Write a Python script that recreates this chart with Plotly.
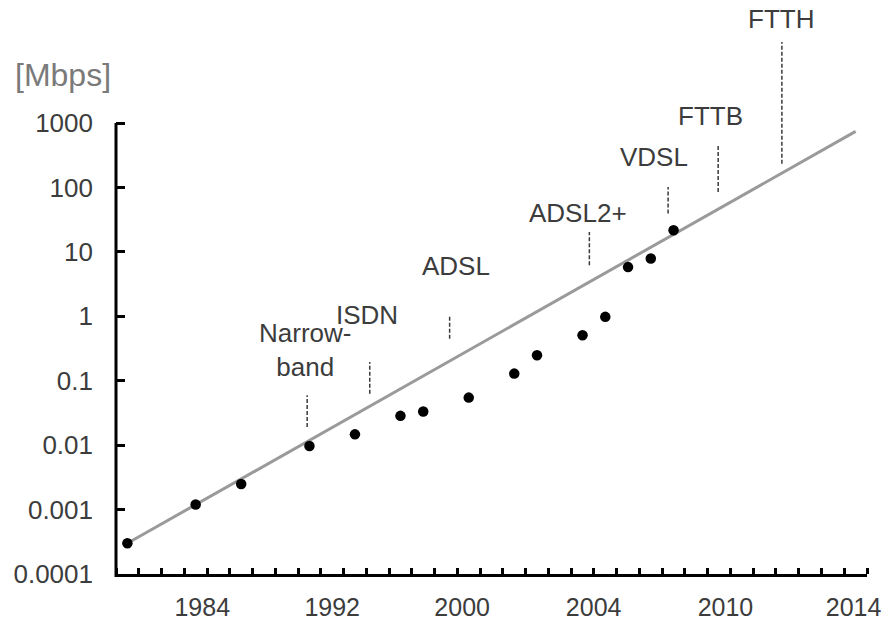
import math
import plotly.graph_objects as go

# ---- data ----
# x positions are year-category indices along the axis (0 = first category)
point_x = [0, 3, 5, 8, 10, 12, 13, 15, 17, 18, 20, 21, 22, 23, 24]
point_mbps = [0.0003, 0.0012, 0.0025, 0.0097, 0.0147, 0.0285, 0.0333, 0.0547,
              0.129, 0.248, 0.507, 0.98, 5.8, 7.9, 21.6]

trend_x = [0, 32]
trend_mbps = [0.0003, 740]

tick_pos = [3.29, 9.0, 14.71, 20.49, 26.28, 31.91]
tick_labels = ["1984", "1992", "2000", "2004", "2010", "2014"]

y_tickvals = [0.0001, 0.001, 0.01, 0.1, 1, 10, 100, 1000]
y_ticktext = ["0.0001", "0.001", "0.01", "0.1", "1", "10", "100", "1000"]

tech_names = ["Narrow-<br>band", "ISDN", "ADSL", "ADSL2+", "VDSL", "FTTB", "FTTH"]
tech_label_x = [7.82, 10.54, 14.44, 19.80, 23.15, 25.64, 28.71]
tech_label_mbps = [0.30, 1.05, 5.93, 39.7, 300, 1285, 40650]
tech_line_x = [7.90, 10.65, 14.16, 20.30, 23.76, 25.96, 28.76]
tech_line_lo = [0.0191, 0.063, 0.45, 6.18, 39.3, 84.9, 234]
tech_line_hi = [0.0594, 0.195, 1.0, 20.3, 101.6, 451, 18070]

unit_label = "[Mbps]"

FONT = "Liberation Sans, Arial, Helvetica, sans-serif"
TXT = "#3c3c3c"
Y_RANGE = [-4, 4.909]

fig = go.Figure()

# dashed technology markers
dx, dy = [], []
for x, lo, hi in zip(tech_line_x, tech_line_lo, tech_line_hi):
    dx += [x, x, None]
    dy += [lo, hi, None]
fig.add_trace(go.Scatter(x=dx, y=dy, mode="lines",
                         line=dict(color="#3a3a3a", width=1.5, dash="4px,2px"),
                         hoverinfo="skip", showlegend=False))

# trend line
fig.add_trace(go.Scatter(x=trend_x, y=trend_mbps, mode="lines",
                         line=dict(color="#9a9a9a", width=3),
                         showlegend=False))

# data points
fig.add_trace(go.Scatter(x=point_x, y=point_mbps, mode="markers",
                         marker=dict(color="black", size=10.5),
                         cliponaxis=False, showlegend=False))

for name, x, v in zip(tech_names, tech_label_x, tech_label_mbps):
    fig.add_annotation(x=x, y=math.log10(v), xref="x", yref="y", text=name,
                       showarrow=False, xanchor="center", yanchor="middle",
                       font=dict(family=FONT, size=26, color=TXT))

fig.add_annotation(x=-0.0712, y=0.869, xref="paper", yref="paper",
                   text=unit_label, showarrow=False, xanchor="center",
                   yanchor="middle",
                   font=dict(family=FONT, size=32, color="#7a7a7a"))

# y axis line (ends at the top tick value)
span = Y_RANGE[1] - Y_RANGE[0]
top_paper = (math.log10(y_tickvals[-1]) - Y_RANGE[0]) / span
fig.add_shape(type="line", xref="paper", yref="paper", x0=0, x1=0,
              y0=-3.0 / 574, y1=top_paper, line=dict(color="black", width=3))

fig.update_layout(
    width=886, height=622,
    margin=dict(l=116, r=19, t=0, b=48, autoexpand=False),
    paper_bgcolor="white", plot_bgcolor="white",
    font=dict(family=FONT, size=26, color=TXT),
    showlegend=False,
)

fig.update_xaxes(
    range=[-0.5, 32.5], showgrid=False, zeroline=False, automargin=False,
    showline=True, linewidth=3, linecolor="black",
    tickmode="array", tickvals=tick_pos, ticktext=tick_labels,
    ticks="", ticklabelstandoff=9,
    tickfont=dict(family=FONT, size=25, color=TXT),
    minor=dict(tickmode="linear", tick0=0.5, dtick=1, ticks="inside",
               ticklen=6, tickwidth=2.5, tickcolor="black", showgrid=False),
)

fig.update_yaxes(
    type="log", range=Y_RANGE, showgrid=False, zeroline=False, automargin=False,
    showline=False,
    tickmode="array", tickvals=y_tickvals, ticktext=y_ticktext,
    ticks="inside", ticklen=9, tickwidth=2.5, tickcolor="black",
    ticklabelstandoff=22,
    tickfont=dict(family=FONT, size=26, color=TXT),
)

fig.write_html("out.html")
